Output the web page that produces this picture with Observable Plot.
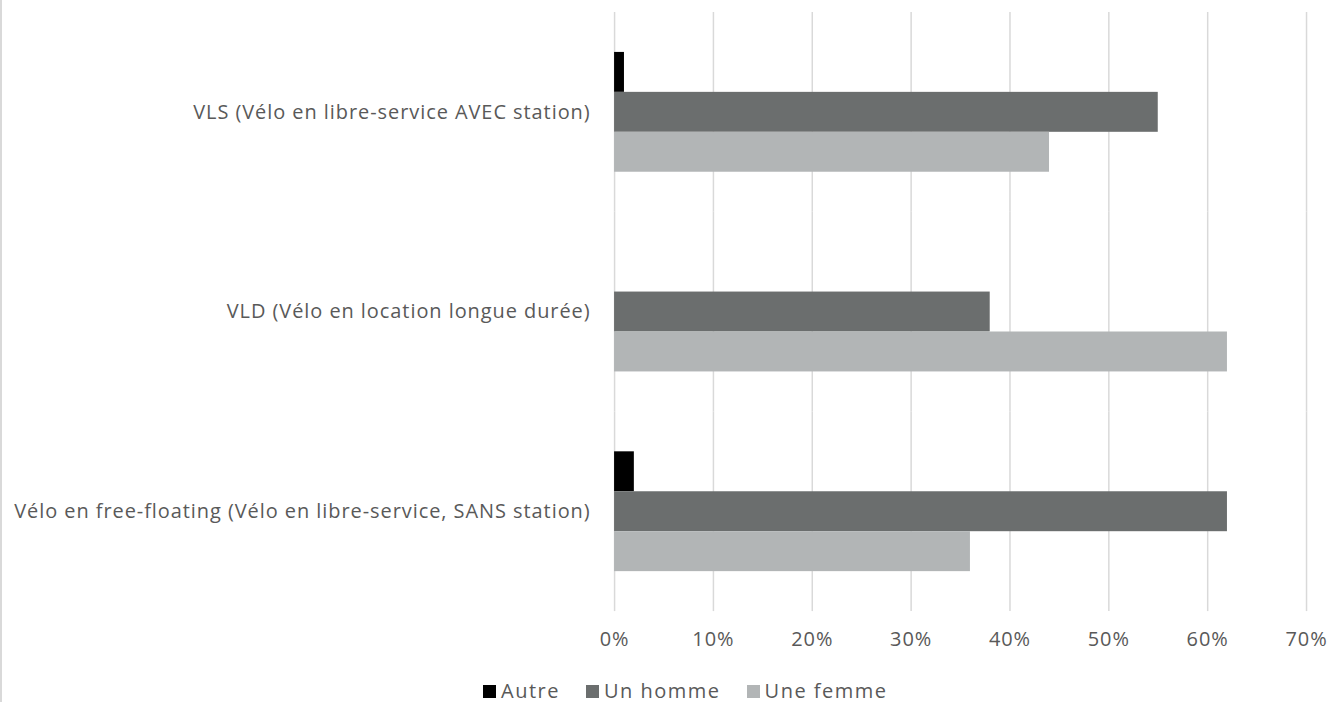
<!DOCTYPE html>
<html>
<head>
<meta charset="utf-8">
<script src="https://cdn.jsdelivr.net/npm/d3@7"></script>
<script src="https://cdn.jsdelivr.net/npm/@observablehq/plot@0.6"></script>
<style>
  html, body { margin: 0; padding: 0; background: #fff; }
  #chart {
    position: relative; width: 1333px; height: 702px; box-sizing: border-box;
    border-left: 2px solid #d9d9d9; font-family: "Open Sans", sans-serif; color: #595959;
  }
  #chart svg { position: absolute; left: -2px; top: 0; }
  #chart svg text { letter-spacing: 0.95px; }
  #legend {
    position: absolute; left: 481px; top: 678px; display: flex; align-items: center;
    font-size: 20px; line-height: 26px; color: #595959; letter-spacing: 1.5px;
  }
  #legend .item { display: flex; align-items: center; margin-right: 26px; }
  #legend .sw { width: 13px; height: 13px; margin-right: 5px; }
</style>
</head>
<body>
<div id="chart"><div id="legend"></div></div>
<script>
// Usage of shared bike services by gender
const categories = [
  "VLS (Vélo en libre-service AVEC station)",
  "VLD (Vélo en location longue durée)",
  "Vélo en free-floating (Vélo en libre-service, SANS station)"
];
const series = ["Autre", "Un homme", "Une femme"];
const autre = [0.01, 0.00, 0.02];
const homme = [0.55, 0.38, 0.62];
const femme = [0.44, 0.62, 0.36];
const colors = ["#000000", "#6b6e6e", "#b2b5b6"];
const xTicks = [0, 0.1, 0.2, 0.3, 0.4, 0.5, 0.6, 0.7];

const valuesBySeries = [autre, homme, femme];
const data = [];
categories.forEach((c, i) => {
  series.forEach((s, j) => data.push({category: c, series: s, value: valuesBySeries[j][i]}));
});

const plot = Plot.plot({
  width: 1333,
  height: 672,
  marginLeft: 615,
  marginRight: 25,
  marginTop: 11,
  marginBottom: 60,
  style: {fontFamily: "Open Sans, sans-serif", fontSize: "20px", color: "#595959", background: "transparent"},
  x: {domain: [0, 0.7], ticks: xTicks, tickSize: 0, tickPadding: 20,
      tickFormat: d => Math.round(d * 100) + "%", label: null},
  fy: {domain: categories, padding: 0, axis: "left", tickSize: 0, tickPadding: 24, label: null},
  y: {domain: series, paddingInner: 0, paddingOuter: 0.95, axis: null},
  color: {domain: series, range: colors},
  marks: [
    Plot.gridX(xTicks, {stroke: "#d9d9d9", strokeOpacity: 1, strokeWidth: 1.5}),
    Plot.barX(data, {x: "value", y: "series", fy: "category", fill: "series"})
  ]
});
document.getElementById("chart").prepend(plot);

// Legend below the chart
const legend = document.getElementById("legend");
series.forEach((s, j) => {
  const item = document.createElement("div");
  item.className = "item";
  const sw = document.createElement("div");
  sw.className = "sw";
  sw.style.background = colors[j];
  const label = document.createElement("span");
  label.textContent = s;
  item.append(sw, label);
  legend.append(item);
});
</script>
</body>
</html>
